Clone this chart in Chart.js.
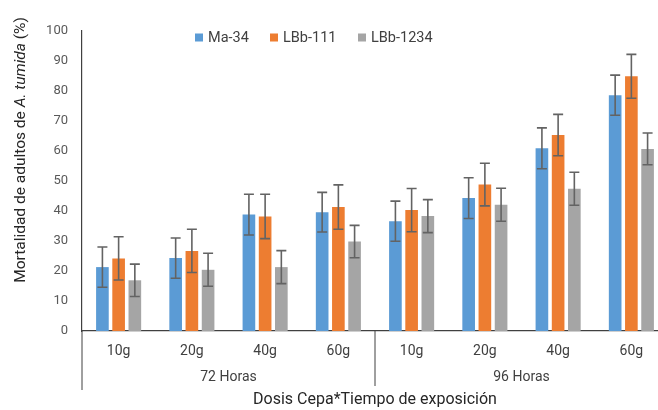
<!DOCTYPE html>
<html>
<head>
<meta charset="utf-8">
<script src="https://cdn.jsdelivr.net/npm/chart.js@4"></script>
<style>
html,body{margin:0;padding:0;background:#fff;overflow:hidden;}
#wrap{width:668px;height:410px;}
</style>
</head>
<body>
<div id="wrap"><canvas id="c" width="668" height="410"></canvas></div>
<script>
const doses = ['10g','20g','40g','60g','10g','20g','40g','60g'];
const timeGroups = ['72 Horas','96 Horas'];
const seriesNames = ['Ma-34','LBb-111','LBb-1234'];
const seriesColors = ['#5B9BD5','#ED7D31','#A5A5A5'];
const ma34 = [21.3, 24.3, 38.8, 39.6, 36.6, 44.3, 60.9, 78.6];
const lbb111 = [24.2, 26.7, 38.2, 41.3, 40.3, 48.8, 65.3, 84.9];
const lbb1234 = [16.9, 20.4, 21.3, 29.8, 38.3, 42.1, 47.4, 60.7];
const ma34Err = [6.7, 6.7, 6.8, 6.6, 6.7, 6.8, 6.8, 6.7];
const lbb111Err = [7.2, 7.2, 7.4, 7.4, 7.2, 7.1, 6.9, 7.3];
const lbb1234Err = [5.4, 5.5, 5.5, 5.4, 5.5, 5.5, 5.5, 5.3];
const yTicks = [0,10,20,30,40,50,60,70,80,90,100];

const FONT = 'Roboto, "Liberation Sans", sans-serif';
const errs = [ma34Err, lbb111Err, lbb1234Err];

const errorBars = {
  id: 'errorBars',
  afterDatasetsDraw(chart) {
    const ctx = chart.ctx, y = chart.scales.y;
    ctx.save();
    ctx.strokeStyle = '#636363';
    ctx.lineWidth = 1.6;
    chart.data.datasets.forEach((ds, i) => {
      const meta = chart.getDatasetMeta(i);
      meta.data.forEach((bar, j) => {
        const v = ds.data[j], e = errs[i][j];
        const yt = y.getPixelForValue(v + e), yb = y.getPixelForValue(v - e);
        const x = bar.x;
        ctx.beginPath();
        ctx.moveTo(x, yt); ctx.lineTo(x, yb);
        ctx.moveTo(x - 5, yt); ctx.lineTo(x + 5, yt);
        ctx.moveTo(x - 5, yb); ctx.lineTo(x + 5, yb);
        ctx.stroke();
      });
    });
    ctx.restore();
  }
};

const decorations = {
  id: 'decorations',
  afterDraw(chart) {
    const ctx = chart.ctx, xs = chart.scales.x, area = chart.chartArea;
    ctx.save();
    const left = area.left, mid = (xs.getPixelForValue(3) + xs.getPixelForValue(4)) / 2, right = area.right;
    ctx.strokeStyle = '#404040';
    ctx.lineWidth = 1;
    ctx.beginPath();
    ctx.moveTo(left, area.bottom); ctx.lineTo(left, area.bottom + 59);
    ctx.moveTo(mid, area.bottom); ctx.lineTo(mid, area.bottom + 55);
    ctx.moveTo(right, area.bottom); ctx.lineTo(right, area.bottom + 55);
    ctx.stroke();
    ctx.fillStyle = '#404040';
    ctx.font = '14px ' + FONT;
    ctx.textAlign = 'center';
    ctx.textBaseline = 'middle';
    ctx.fillText(timeGroups[0], (left + mid) / 2, area.bottom + 46);
    ctx.fillText(timeGroups[1], (mid + right) / 2, area.bottom + 46);
    const parts = [['Mortalidad de adultos de ', 'normal'], ['A. tumida', 'italic'], [' (%)', 'normal']];
    ctx.translate(21, 150);
    ctx.rotate(-Math.PI / 2);
    let total = 0;
    parts.forEach(p => { ctx.font = p[1] + ' 15.5px ' + FONT; total += ctx.measureText(p[0]).width; });
    let x0 = -total / 2;
    ctx.textAlign = 'left';
    ctx.fillStyle = '#262626';
    parts.forEach(p => {
      ctx.font = p[1] + ' 15.5px ' + FONT;
      ctx.fillText(p[0], x0, 0);
      x0 += ctx.measureText(p[0]).width;
    });
    ctx.setTransform(1, 0, 0, 1, 0, 0);
    const lx = [195, 270, 358];
    ctx.font = '14.5px ' + FONT;
    ctx.textBaseline = 'middle';
    chart.data.datasets.forEach((ds, i) => {
      ctx.fillStyle = ds.backgroundColor;
      ctx.fillRect(lx[i], 33.5, 8, 8);
      ctx.fillStyle = '#404040';
      ctx.fillText(ds.label, lx[i] + 13, 38);
    });
    ctx.restore();
  }
};

new Chart(document.getElementById('c'), {
  type: 'bar',
  data: {
    labels: doses,
    datasets: [
      { label: seriesNames[0], data: ma34, backgroundColor: seriesColors[0] },
      { label: seriesNames[1], data: lbb111, backgroundColor: seriesColors[1] },
      { label: seriesNames[2], data: lbb1234, backgroundColor: seriesColors[2] }
    ]
  },
  options: {
    responsive: false,
    animation: false,
    devicePixelRatio: 1,
    layout: { padding: { top: 31, right: 0, bottom: 0, left: 0 } },
    datasets: { bar: { categoryPercentage: 0.664, barPercentage: 0.78 } },
    plugins: { legend: { display: false }, tooltip: { enabled: false } },
    scales: {
      x: {
        grid: { display: false, drawTicks: false },
        border: { display: true, color: '#404040', width: 1.2 },
        ticks: { font: { family: FONT, size: 14 }, color: '#404040', padding: 12, maxRotation: 0 },
        title: { display: true, text: 'Dosis Cepa*Tiempo de exposición', font: { family: FONT, size: 16 }, color: '#262626', padding: { top: 0, bottom: 0 } },
        afterFit(s) { s.height = 79; }
      },
      y: {
        min: 0, max: 100,
        afterBuildTicks(s) { s.ticks = yTicks.map(v => ({ value: v })); },
        grid: { display: false, drawTicks: false },
        border: { display: true, color: '#404040', width: 1.2 },
        ticks: { font: { family: FONT, size: 13 }, color: '#595959', padding: 14 },
        afterFit(s) { s.width = 82; }
      }
    }
  },
  plugins: [errorBars, decorations]
});
</script>
</body>
</html>
